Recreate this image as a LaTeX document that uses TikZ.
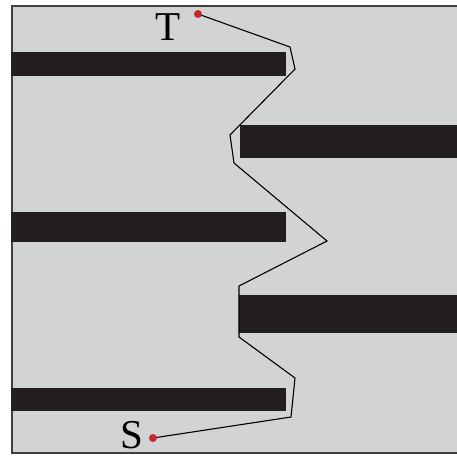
\documentclass[tikz,border=0pt]{standalone}
\usepackage{fontspec}
\setmainfont{Liberation Serif}
\usepackage{xcolor}

\definecolor{fieldgray}{RGB}{210,211,212}
\definecolor{pathred}{RGB}{200,40,45}
\definecolor{wallblack}{RGB}{35,31,32}

\tikzset{
  wall/.style={fill=wallblack, draw=none},
  pin/.style={circle, fill=pathred, inner sep=0pt, minimum size=8pt},
  tag/.style={inner sep=0pt, font=\fontsize{41}{41}\selectfont}
}

\begin{document}
\begin{tikzpicture}[x=1pt, y=-1pt]
\useasboundingbox (0,0) rectangle (457,456);

\fill [fieldgray] (12,6) rectangle (457,453);
\draw [black!75, line width=1.2pt] (457,6) -- (12,6) -- (12,453) -- (457,453);

\fill [wall] (11,52) rectangle (286,76);
\fill [wall] (240,125) rectangle (457,158);
\fill [wall] (11,212) rectangle (286,242);
\fill [wall] (239,295) rectangle (457,333);
\fill [wall] (11,388) rectangle (286,411);

\node [tag] (tlabel) at (168,27) {T};
\node [tag] (slabel) at (132,435) {S};

\coordinate (a) at (290,47);
\coordinate (b) at (295,69);
\coordinate (c) at (230,135);
\coordinate (d) at (234,163);
\coordinate (e) at (327,241);
\coordinate (f) at (239,286);
\coordinate (g) at (239,337);
\coordinate (h) at (295,378);
\coordinate (i) at (291,417);

\draw [black, line width=1.1pt] (198,14) coordinate (target) -- (a) -- (b) -- (c) -- (d) -- (e) -- (f) -- (g) -- (h) -- (i) -- (153,438) coordinate (source);

\node [pin] (tdot) at (target) {};
\node [pin] (sdot) at (source) {};
\end{tikzpicture}
\end{document}
